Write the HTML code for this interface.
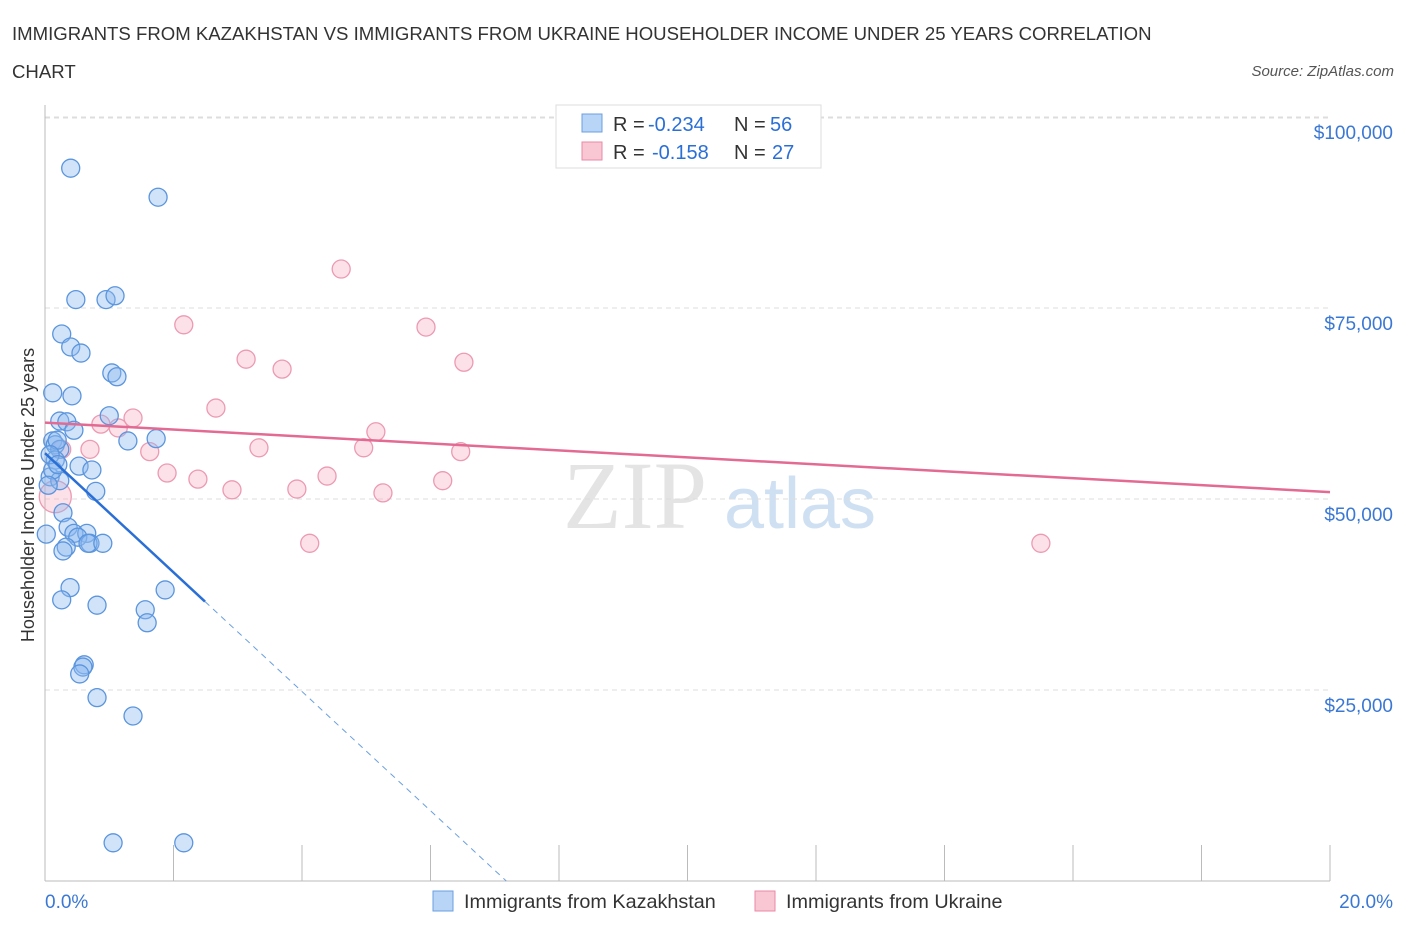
<!DOCTYPE html>
<html><head><meta charset="utf-8"><style>
body{margin:0;background:#fff;font-family:"Liberation Sans",sans-serif;}
</style></head><body>
<svg id="c" width="1406" height="930" xmlns="http://www.w3.org/2000/svg" font-family="Liberation Sans, sans-serif">
<text x="12" y="40" font-size="18.6" fill="#333">IMMIGRANTS FROM KAZAKHSTAN VS IMMIGRANTS FROM UKRAINE HOUSEHOLDER INCOME UNDER 25 YEARS CORRELATION</text>
<text x="12" y="78" font-size="18.6" fill="#333">CHART</text>
<text x="1394" y="76" font-size="15" fill="#555" text-anchor="end" font-style="italic">Source: ZipAtlas.com</text>
<text x="635" y="528" font-size="96" fill="#e4e4e4" font-family="Liberation Serif, serif" text-anchor="middle">ZIP</text>
<text x="800" y="528" font-size="72" fill="#cfe0f3" text-anchor="middle">atlas</text>
<text transform="translate(34,495) rotate(-90)" font-size="18" fill="#333" text-anchor="middle">Householder Income Under 25 years</text>
<g id="grid"></g><g id="marks"></g>
<g>
<rect x="556" y="105" width="265" height="63" fill="#fff" stroke="#ddd"/>
<rect x="582" y="114" width="20" height="18" fill="#b8d4f6" stroke="#6a9fe0"/>
<text x="613" y="131" font-size="20" fill="#333">R =</text>
<text x="648" y="131" font-size="20" fill="#2a6fd6">-0.234</text>
<text x="734" y="131" font-size="20" fill="#333">N =</text>
<text x="770" y="131" font-size="20" fill="#2a6fd6">56</text>
<rect x="582" y="142" width="20" height="18" fill="#f9c6d4" stroke="#e98aa6"/>
<text x="613" y="159" font-size="20" fill="#333">R =</text>
<text x="652" y="159" font-size="20" fill="#2a6fd6">-0.158</text>
<text x="734" y="159" font-size="20" fill="#333">N =</text>
<text x="772" y="159" font-size="20" fill="#2a6fd6">27</text>
</g>
<g>
<rect x="433" y="891" width="20" height="20" fill="#b8d4f6" stroke="#6a9fe0"/>
<text x="464" y="908" font-size="19.8" fill="#333">Immigrants from Kazakhstan</text>
<rect x="755" y="891" width="20" height="20" fill="#f9c6d4" stroke="#e98aa6"/>
<text x="786" y="908" font-size="19.8" fill="#333">Immigrants from Ukraine</text>
</g>
</svg>
<script>
const yTicks=[25000,50000,75000,100000];
const yTickLabels=["$25,000","$50,000","$75,000","$100,000"];
const xLabels=["0.0%","20.0%"];
const blueX=[0.40,1.76,0.48,0.95,1.09,0.26,0.40,0.56,1.04,1.12,0.12,0.42,1.00,0.23,0.34,0.45,1.29,1.73,0.12,0.16,0.23,0.16,0.53,0.73,0.08,0.23,0.79,0.28,0.36,0.45,0.65,0.51,0.70,0.67,0.90,0.33,0.28,0.02,0.39,1.87,0.26,0.81,1.56,1.59,0.61,0.59,0.54,0.81,1.37,1.06,2.16,0.12,0.19,0.08,0.05,0.20];
const blueY=[93.3,89.5,76.1,76.1,76.6,71.6,69.9,69.1,66.5,66.0,63.9,63.5,60.9,60.2,60.1,59.0,57.6,57.9,57.6,57.1,56.5,55.1,54.3,53.8,52.9,52.4,51.0,48.2,46.3,45.5,45.5,45.0,44.2,44.2,44.2,43.7,43.2,45.4,38.4,38.1,36.8,36.1,35.5,33.8,28.3,28.0,27.1,24.0,21.6,5.0,5.0,53.8,57.7,55.8,51.8,54.5];
const pinkX=[4.61,2.16,5.93,3.13,3.69,6.52,2.66,1.37,0.87,1.14,5.15,1.63,3.33,4.96,6.47,0.70,1.90,2.38,4.39,3.92,2.91,5.26,6.19,4.12,15.50,0.16,0.26];
const pinkY=[80.1,72.8,72.5,68.3,67.0,67.9,61.9,60.6,59.8,59.3,58.8,56.2,56.7,56.7,56.2,56.5,53.4,52.6,53.0,51.3,51.2,50.8,52.4,44.2,44.2,50.3,56.5];
const blueTrend=[56.0,-7.8];
const pinkTrend=[60.0,-0.455];
const NS="http://www.w3.org/2000/svg";
const X=v=>45+v*64.25, Y=v=>881-v*1000*191/25000;
function mk(t,a,p){const e=document.createElementNS(NS,t);for(const k in a)e.setAttribute(k,a[k]);p.appendChild(e);return e;}
const g=document.getElementById('grid'),m=document.getElementById('marks');
const topLine=mk('line',{x1:45,x2:1330,y1:118,y2:118,stroke:'#ddd','stroke-dasharray':'5,4'},g);


yTicks.forEach((t,i)=>{
 const l=mk('line',{x1:45,x2:1330,y1:Y(t/1000),y2:Y(t/1000),stroke:'#ddd','stroke-dasharray':'5,4'},g);
 
 
 const tx=mk('text',{x:1393,y:Y(t/1000)+22,'font-size':19,fill:'#3a78d4','text-anchor':'end'},g);
 tx.textContent=yTickLabels[i];
 
 
});
const ax=mk('line',{x1:45,x2:1330,y1:881,y2:881,stroke:'#bbb'},g);


const ay=mk('line',{x1:45,x2:45,y1:105,y2:881,stroke:'#bbb'},g);


for(let i=0;i<=10;i++){const t=mk('line',{x1:X(i*2),x2:X(i*2),y1:845,y2:881,stroke:'#bbb'},g);
 
 }
[[0,xLabels[0],'start',45],[20,xLabels[1],'end',1393]].forEach(d=>{
 const t=mk('text',{x:d[3],y:908,'font-size':19,fill:'#3a78d4','text-anchor':d[2]},g);t.textContent=d[1];
 
 });
pinkX.forEach((x,i)=>{const c=mk('circle',{cx:X(x),cy:Y(pinkY[i]),r:i==25?16:9,fill:'rgba(246,170,192,0.35)',stroke:'#ec9ab2','stroke-width':1.3},m);
 
 });
blueX.forEach((x,i)=>{const c=mk('circle',{cx:X(x),cy:Y(blueY[i]),r:9,fill:'rgba(140,185,240,0.4)',stroke:'#5b95dd','stroke-width':1.3},m);
 
 });
const pl=mk('line',{x1:X(0),y1:Y(pinkTrend[0]),x2:X(20),y2:Y(pinkTrend[0]+20*pinkTrend[1]),stroke:'#e36a92','stroke-width':2.5},m);


const bx=2.49,bxe=-blueTrend[0]/blueTrend[1];
const bl=mk('line',{x1:X(0),y1:Y(blueTrend[0]),x2:X(bx),y2:Y(blueTrend[0]+bx*blueTrend[1]),stroke:'#2a6fd6','stroke-width':2.5},m);


const bd=mk('line',{x1:X(bx),y1:Y(blueTrend[0]+bx*blueTrend[1]),x2:X(bxe),y2:Y(0),stroke:'#6a9fe0','stroke-width':1,'stroke-dasharray':'6,5'},m);


</script>
</body></html>
